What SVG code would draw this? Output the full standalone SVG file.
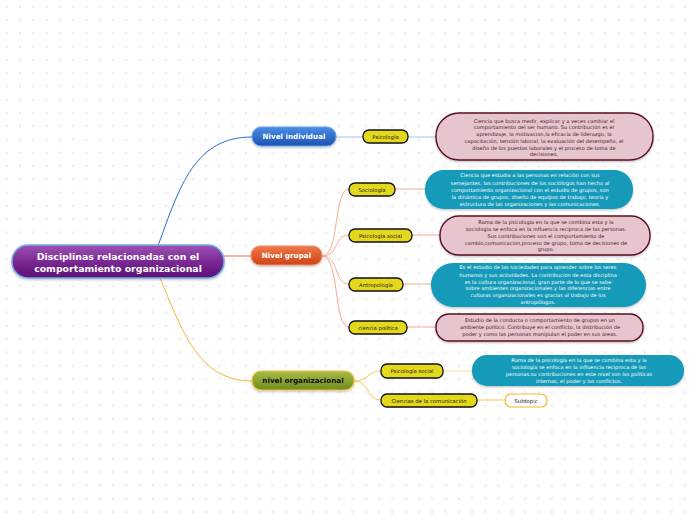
<svg xmlns="http://www.w3.org/2000/svg" width="696" height="520" viewBox="0 0 696 520">
<defs>
<pattern id="grid" width="13.3" height="13.3" patternUnits="userSpaceOnUse">
<path d="M6.6,5.1 V8.1 M5.1,6.6 H8.1" stroke="#e4e4e4" stroke-width="0.8"/>
</pattern>
<linearGradient id="gRoot" x1="0" y1="0" x2="0" y2="1"><stop offset="0" stop-color="#a050b4"/><stop offset="0.5" stop-color="#7a2a94"/><stop offset="1" stop-color="#5c0e74"/></linearGradient>
<linearGradient id="gBlue" x1="0" y1="0" x2="0" y2="1"><stop offset="0" stop-color="#4a8ee6"/><stop offset="1" stop-color="#1a50b0"/></linearGradient>
<linearGradient id="gOrange" x1="0" y1="0" x2="0" y2="1"><stop offset="0" stop-color="#f07848"/><stop offset="1" stop-color="#cc4418"/></linearGradient>
<linearGradient id="gGreen" x1="0" y1="0" x2="0" y2="1"><stop offset="0" stop-color="#a8bc48"/><stop offset="1" stop-color="#6e8c1e"/></linearGradient>
<filter id="sh" x="-10%" y="-20%" width="120%" height="150%"><feDropShadow dx="0" dy="1.2" stdDeviation="0.8" flood-color="#000" flood-opacity="0.25"/></filter>
</defs>
<style>
.main{font-family:"DejaVu Sans",Verdana,sans-serif;font-weight:bold;fill:#fff;text-anchor:middle}
.sub{font-family:"DejaVu Sans",Verdana,sans-serif;font-size:5.3px;fill:#222;text-anchor:middle}
.ybox{fill:#e4d81c;stroke:#111;stroke-width:1.3}
.desc{font-family:"DejaVu Sans",Verdana,sans-serif;font-size:5.1px;text-anchor:middle}
.pinkT{fill:#4a1424}
.tealT{fill:#fff}
.pink{fill:#e6c6cc;stroke:#5a1024;stroke-width:1.4}
.teal{fill:#139ab9}
.c{fill:none;stroke-width:1}
</style>
<rect width="696" height="520" fill="#fff"/>
<rect width="696" height="520" fill="url(#grid)"/>

<g id="connectors">
<path class="c" d="M158,246 C180,185 195,137 252,137" stroke="#2a6ad8" stroke-width="1.3"/>
<path class="c" d="M224,256 L251,256" stroke="#e86a40" stroke-width="1.2"/>
<path class="c" d="M160,278 C182,330 198,381 252,381" stroke="#f2b830" stroke-width="1.3"/>
<path class="c" d="M336,137 L363,137" stroke="#9ec4ee"/>
<path class="c" d="M408,137 L436,137" stroke="#9ec4ee"/>
<path class="c" d="M322,256 C340,256 333,189 349,189" stroke="#f8aa90"/>
<path class="c" d="M322,256 C340,256 333,235 349,235" stroke="#f8aa90"/>
<path class="c" d="M322,256 C340,256 333,284 349,284" stroke="#f8aa90"/>
<path class="c" d="M322,256 C340,256 333,327 349,327" stroke="#f8aa90"/>
<path class="c" d="M395,189 L425,189" stroke="#f8aa90"/>
<path class="c" d="M412,235 L440,235" stroke="#f8aa90"/>
<path class="c" d="M403,284 L431,284" stroke="#f8aa90"/>
<path class="c" d="M407,327 L436,327" stroke="#f8aa90"/>
<path class="c" d="M354,381 C370,381 366,371 381,371" stroke="#f7c850"/>
<path class="c" d="M354,381 C370,381 366,400 381,400" stroke="#f7c850"/>
<path class="c" d="M443,371 L472,371" stroke="#f9dc98"/>
<path class="c" d="M477,400 L505,400" stroke="#f7c850"/>
</g>

<g id="root">
<rect x="12" y="245" width="212" height="33" rx="16" fill="url(#grid)"/>
<rect x="12" y="245" width="212" height="33" rx="16" fill="url(#gRoot)" stroke="#6eb0e6" stroke-width="1.5" filter="url(#sh)"/>
<text class="main" font-size="9.4" x="118" y="259.5">Disciplinas relacionadas con el</text>
<text class="main" font-size="9.4" x="118" y="271.5">comportamiento organizacional</text>
</g>

<g id="n-individual">
<rect x="252" y="127" width="84" height="19" rx="9" fill="url(#gBlue)" stroke="#6aa4ea" stroke-width="1" filter="url(#sh)"/>
<text class="main" font-size="7.2" x="294" y="139.3">Nivel individual</text>
</g>
<g id="n-grupal">
<rect x="251" y="246" width="71" height="19" rx="9" fill="url(#gOrange)" stroke="#f09070" stroke-width="1" filter="url(#sh)"/>
<text class="main" font-size="7.2" x="286.5" y="258.3">Nivel grupal</text>
</g>
<g id="n-organizacional">
<rect x="252" y="371" width="102" height="19" rx="9" fill="url(#gGreen)" stroke="#f4c040" stroke-width="1.2" filter="url(#sh)"/>
<text class="main" font-size="7.2" x="303" y="383.3" fill="#111" style="fill:#111">nivel organizacional</text>
</g>

<g id="s-psicologia">
<rect class="ybox" x="363" y="130" width="45" height="13" rx="6"/>
<text class="sub" x="385.5" y="138.5">Psicología</text>
</g>
<g id="s-sociologia">
<rect class="ybox" x="349" y="183" width="46" height="13" rx="6"/>
<text class="sub" x="372" y="191.5">Sociología</text>
</g>
<g id="s-psicsocial">
<rect class="ybox" x="349" y="229" width="63" height="13" rx="6"/>
<text class="sub" x="380.5" y="237.5">Psicología social</text>
</g>
<g id="s-antropologia">
<rect class="ybox" x="349" y="278" width="54" height="13" rx="6"/>
<text class="sub" x="376" y="286.5">Antropología</text>
</g>
<g id="s-cienciapolitica">
<rect class="ybox" x="349" y="321" width="58" height="13" rx="6"/>
<text class="sub" x="378" y="329.5">ciencia política</text>
</g>
<g id="s-psicsocial2">
<rect class="ybox" x="381" y="364" width="62" height="14" rx="6"/>
<text class="sub" x="412" y="373">Psicología social</text>
</g>
<g id="s-comunicacion">
<rect class="ybox" x="381" y="394" width="96" height="13" rx="6"/>
<text class="sub" x="429" y="402.5">Ciencias de la comunicación</text>
</g>
<g id="s-subtopic">
<rect x="505" y="394" width="42" height="13" rx="6" fill="#fff" stroke="#f4b830" stroke-width="1.2"/>
<text class="sub" x="526" y="402.5">Subtopic</text>
</g>

<g id="d-psicologia">
<rect class="pink" x="436" y="113" width="217" height="47" rx="23" filter="url(#sh)"/>
<text class="desc pinkT" x="544" y="122.5">Ciencia que busca medir, explicar y a veces cambiar el</text>
<text class="desc pinkT" x="544" y="129.2">comportamiento del ser humano. Su contribución es el</text>
<text class="desc pinkT" x="544" y="136">aprendizaje, la motivacion,la eficacia de liderazgo, la</text>
<text class="desc pinkT" x="544" y="142.7">capacitación, tensión laboral, la evaluación del desempeño, el</text>
<text class="desc pinkT" x="544" y="149.5">diseño de los puestos laborales y el proceso de toma de</text>
<text class="desc pinkT" x="544" y="156.2">decisiones.</text>
</g>
<g id="d-sociologia">
<rect class="teal" x="425" y="170" width="208" height="39" rx="19" filter="url(#sh)"/>
<text class="desc tealT" x="530" y="177.3">Ciencia que estudia a las personas en relación con sus</text>
<text class="desc tealT" x="530" y="184.5">semejantes. las contribuciones de los sociólogos han hecho al</text>
<text class="desc tealT" x="530" y="191.8">comportamiento organizacional con el estudio de grupos, son</text>
<text class="desc tealT" x="530" y="198.8">la dinámica de grupos, diseño de equipos de trabajo, teoría y</text>
<text class="desc tealT" x="530" y="205.5">estructura de las organizaciones y las comunicaciones.</text>
</g>
<g id="d-psicsocial">
<rect class="pink" x="440" y="216" width="210" height="39" rx="19" filter="url(#sh)"/>
<text class="desc pinkT" x="546" y="224">Rama de la psicología en la que se combina esta y la</text>
<text class="desc pinkT" x="546" y="230.7">sociología se enfoca en la influencia reciproca de las personas.</text>
<text class="desc pinkT" x="546" y="238">Sus contribuciones son el comportamiento de</text>
<text class="desc pinkT" x="546" y="244.7">cambio,comunicacion,proceso de grupo, toma de decisiones de</text>
<text class="desc pinkT" x="546" y="251.3">grupo.</text>
</g>
<g id="d-antropologia">
<rect class="teal" x="431" y="263" width="215" height="44" rx="22" filter="url(#sh)"/>
<text class="desc tealT" x="538" y="269.3">Es el estudio de las sociedades para aprender sobre los seres</text>
<text class="desc tealT" x="538" y="276.8">humanos y sus actividades. La contribución  de esta disciplina</text>
<text class="desc tealT" x="538" y="283.6">es la cultura organizacional, gran parte de lo que se sabe</text>
<text class="desc tealT" x="538" y="290.3">sobre ambientes organizacionales y las diferencias entre</text>
<text class="desc tealT" x="538" y="297">culturas organizacionales es gracias al trabajo de los</text>
<text class="desc tealT" x="538" y="303.6">antropólogos.</text>
</g>
<g id="d-cienciapolitica">
<rect class="pink" x="436" y="314" width="207" height="27" rx="13" filter="url(#sh)"/>
<text class="desc pinkT" x="540" y="322">Estudio de la conducta o comportamiento de grupos en un</text>
<text class="desc pinkT" x="540" y="328.7">ambiente político. Contribuye en el conflicto, la distribución de</text>
<text class="desc pinkT" x="540" y="336">poder y como las personas manipulan el poder en sus áreas.</text>
</g>
<g id="d-psicsocial2">
<rect class="teal" x="472" y="355" width="212" height="31" rx="15" filter="url(#sh)"/>
<text class="desc tealT" x="579" y="362.3">Rama de la psicología en la que se combina esta y la</text>
<text class="desc tealT" x="579" y="369">sociología se enfoca en la influencia reciproca de las</text>
<text class="desc tealT" x="579" y="376.3">personas.su contribuciones en este nivel son las políticas</text>
<text class="desc tealT" x="579" y="383.3">internas, el poder y los conflictos.</text>
</g>
</svg>
